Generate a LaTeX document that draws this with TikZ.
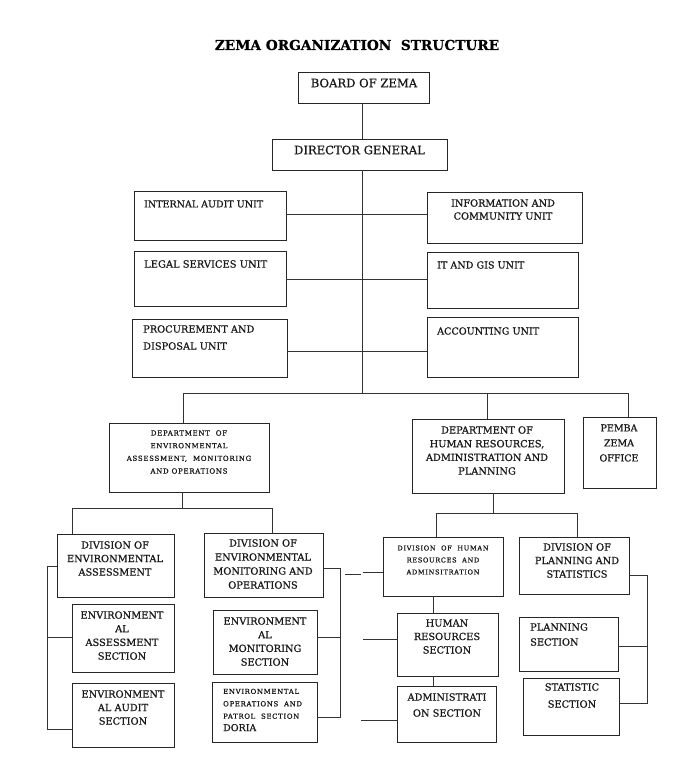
\documentclass[tikz,border=0pt]{standalone}
\usepackage{fontspec}
\setmainfont[FakeBold=0.7]{DejaVu Serif}
\newfontfamily\spacedfont[LetterSpace=10,FakeBold=0.7]{DejaVu Serif}
\newfontfamily\titlefont[FakeBold=0.5]{DejaVu Serif Bold}
\newcommand\mybox[5]{\node[box,minimum width=#4pt,minimum height=#5pt] (#1) at (#2,#3) {};}
\begin{document}
\begin{tikzpicture}[x=1pt,y=-1pt,
  box/.style={draw=black!85,line width=0.9pt,inner sep=0pt,outer sep=0pt,fill=white},
  ln/.style={draw=black!80,line width=0.9pt},
  lbl/.style 2 args={inner sep=0pt,align=center,text=black!90,font=\fontsize{#1}{#2}\selectfont},
  sml/.style 2 args={inner sep=0pt,align=center,text=black!90,font=\fontsize{#1}{#2}\selectfont\spacedfont},
]
\useasboundingbox[fill=white] (0,0) rectangle (678,762);
% boxes
\mybox{board}{363.5}{87.5}{131}{31}
\mybox{dg}{359.5}{154.5}{175}{31}
\mybox{ia}{210}{215.5}{152}{49}
\mybox{ic}{504.5}{217.5}{155}{51}
\mybox{ls}{210}{278.5}{152}{55}
\mybox{it}{502.5}{280}{151}{56}
\mybox{pd}{209.5}{348}{155}{58}
\mybox{acc}{502.5}{347}{151}{60}
\mybox{denv}{189}{457.5}{160}{69}
\mybox{dhr}{488}{456}{152}{74}
\mybox{pemba}{619.5}{452.5}{73}{71}
\mybox{dea}{115.5}{565.5}{117}{63}
\mybox{demo}{263.5}{565}{119}{64}
\mybox{eas}{123}{638}{102}{68}
\mybox{eaud}{123}{715}{102}{64}
\mybox{ems}{265}{642}{104}{64}
\mybox{eops}{264.5}{712}{105}{60}
\mybox{dhra}{443}{566.5}{120}{59}
\mybox{dps}{574}{565.5}{110}{57}
\mybox{hrs}{447.5}{644.5}{101}{63}
\mybox{adm}{446.5}{714}{99}{56}
\mybox{ps}{568.5}{644}{99}{54}
\mybox{ss}{571}{706.5}{96}{57}
% texts
\node[inner sep=0pt,font=\fontsize{13.7}{16}\selectfont\titlefont] (title) at (357,45) {ZEMA ORGANIZATION\ \ STRUCTURE};
\node[lbl={11.6}{13}] (board-t) at (364,83) {BOARD OF ZEMA};
\node[lbl={11.6}{13}] (dg-t) at (359.5,150) {DIRECTOR GENERAL};
\node[lbl={9.5}{13},anchor=west] (ia-t) at (144,204) {INTERNAL AUDIT UNIT};
\node[lbl={9.7}{13}] (ic-t) at (503,209.5) {INFORMATION AND\\COMMUNITY UNIT};
\node[lbl={9.9}{13},anchor=west] (ls-t) at (144,264) {LEGAL SERVICES UNIT};
\node[lbl={9.6}{13},anchor=west] (it-t) at (437,265) {IT AND GIS UNIT};
\node[lbl={9.8}{17},anchor=west,align=left] (pd-t) at (143,337.5) {PROCUREMENT AND\\DISPOSAL UNIT};
\node[lbl={9.6}{13},anchor=west] (acc-t) at (437,331) {ACCOUNTING UNIT};
\node[sml={7}{12.67}] (denv-t) at (189,452) {DEPARTMENT\ \ OF\\ENVIRONMENTAL\\ASSESSMENT,\ \ MONITORING\\AND OPERATIONS};
\node[lbl={9.8}{13.67}] (dhr-t) at (487,450.5) {DEPARTMENT OF\\HUMAN RESOURCES,\\ADMINISTRATION AND\\PLANNING};
\node[lbl={9.5}{15}] (pemba-t) at (619,443) {PEMBA\\ZEMA\\OFFICE};
\node[lbl={9.8}{13.5}] (dea-t) at (115,558.5) {DIVISION OF\\ENVIRONMENTAL\\ASSESSMENT};
\node[lbl={9.8}{14}] (demo-t) at (263,564) {DIVISION OF\\ENVIRONMENTAL\\MONITORING AND\\OPERATIONS};
\node[lbl={9.8}{13.67}] (eas-t) at (122,635.5) {ENVIRONMENT\\AL\\ASSESSMENT\\SECTION};
\node[lbl={9.8}{13.5}] (eaud-t) at (123,707.5) {ENVIRONMENT\\AL AUDIT\\SECTION};
\node[lbl={9.8}{13.67}] (ems-t) at (265,641.5) {ENVIRONMENT\\AL\\MONITORING\\SECTION};
\node[sml={6.9}{12.4},anchor=west,align=left] (eops-t) at (223,710) {ENVIRONMENTAL\\OPERATIONS\ \ AND\\PATROL\ \ SECTION\\{\fontsize{9.5}{12.4}\selectfont\normalfont DORIA}};
\node[sml={6.6}{12}] (dhra-t) at (443,560) {DIVISION\ \ OF\ \ HUMAN\\RESOURCES\ \ AND\\ADMINSITRATION};
\node[lbl={9.8}{13.5}] (dps-t) at (577,560.5) {DIVISION OF\\PLANNING AND\\STATISTICS};
\node[lbl={9.8}{13.5}] (hrs-t) at (447,636.5) {HUMAN\\RESOURCES\\SECTION};
\node[lbl={9.8}{16}] (adm-t) at (447,705) {ADMINISTRATI\\ON SECTION};
\node[lbl={9.8}{15},anchor=west,align=left] (ps-t) at (530,634.5) {PLANNING\\SECTION};
\node[lbl={9.8}{17}] (ss-t) at (572,695.5) {STATISTIC\\SECTION};
% coordinates
\coordinate (spine) at (362,0);
\coordinate (busY) at (0,393);
\coordinate (u1) at (0,214);
\coordinate (u2) at (0,279);
\coordinate (u3) at (0,351);
\coordinate (b1) at (183,393);
\coordinate (b2) at (487,393);
\coordinate (b3) at (628,393);
\coordinate (e0) at (182,508);
\coordinate (e1) at (72,508);
\coordinate (e2) at (272,508);
\coordinate (h0) at (493,513);
\coordinate (h1) at (436,513);
\coordinate (h2) at (577,513);
\coordinate (lb1) at (47,566);
\coordinate (lb2) at (47,637);
\coordinate (lb3) at (47,729);
\coordinate (mb1) at (340,568);
\coordinate (mb2) at (340,637);
\coordinate (mb3) at (340,717);
\coordinate (s1) at (345,574);
\coordinate (s2) at (361,574);
\coordinate (s3) at (363,572);
\coordinate (s4) at (363,639);
\coordinate (s5) at (361,720);
\coordinate (v) at (433,0);
\coordinate (pb1) at (647,575);
\coordinate (pb2) at (647,646);
\coordinate (pb3) at (647,703);
% connectors
\draw[ln] (board.south -| spine) -- (dg.north -| spine);
\draw[ln] (dg.south -| spine) -- (spine |- busY);
\draw[ln] (ia.east |- u1) -- (ic.west |- u1);
\draw[ln] (ls.east |- u2) -- (it.west |- u2);
\draw[ln] (pd.east |- u3) -- (acc.west |- u3);
\draw[ln] (b1 |- denv.north) -- (b1) -- (b3) -- (b3 |- pemba.north);
\draw[ln] (b2) -- (b2 |- dhr.north);
\draw[ln] (denv.south -| e0) -- (e0);
\draw[ln] (e1 |- dea.north) -- (e1) -- (e2) -- (e2 |- demo.north);
\draw[ln] (dhr.south -| h0) -- (h0);
\draw[ln] (h1 |- dhra.north) -- (h1) -- (h2) -- (h2 |- dps.north);
\draw[ln] (dea.west |- lb1) -- (lb1) -- (lb3) -- (eaud.west |- lb3);
\draw[ln] (lb2) -- (eas.west |- lb2);
\draw[ln] (demo.east |- mb1) -- (mb1) -- (mb3) -- (eops.east |- mb3);
\draw[ln] (mb2) -- (ems.east |- mb2);
\draw[ln] (s1) -- (s2);
\draw[ln] (s3) -- (dhra.west |- s3);
\draw[ln] (s4) -- (hrs.west |- s4);
\draw[ln] (s5) -- (adm.west |- s5);
\draw[ln] (dhra.south -| v) -- (hrs.north -| v);
\draw[ln] (hrs.south -| v) -- (adm.north -| v);
\draw[ln] (dps.east |- pb1) -- (pb1) -- (pb3) -- (ss.east |- pb3);
\draw[ln] (pb2) -- (ps.east |- pb2);
\end{tikzpicture}
\end{document}
